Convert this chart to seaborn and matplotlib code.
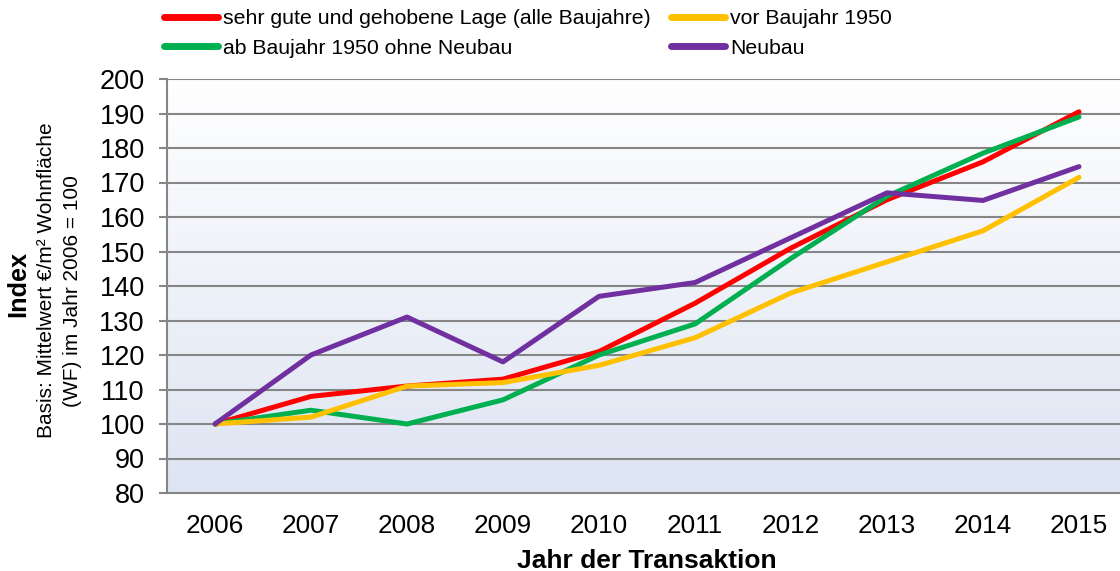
import numpy as np
import pandas as pd
import seaborn as sns
import matplotlib.pyplot as plt
from matplotlib.ticker import MultipleLocator

# data
years = [2006, 2007, 2008, 2009, 2010, 2011, 2012, 2013, 2014, 2015]
lage = [100, 108, 111, 113, 121, 135, 151, 165, 176, 190.5]
vor1950 = [100, 102, 111, 112, 117, 125, 138, 147, 156, 171.5]
ab1950 = [100, 104, 100, 107, 120, 129, 148, 166, 178.5, 189]
neubau = [100, 120, 131, 118, 137, 141, 154, 167, 164.8, 174.6]

names = ["sehr gute und gehobene Lage (alle Baujahre)", "vor Baujahr 1950",
         "ab Baujahr 1950 ohne Neubau", "Neubau"]
colors = {names[0]: "#ff0000", names[1]: "#ffc000", names[2]: "#00b050", names[3]: "#7030a0"}

df = pd.concat([
    pd.DataFrame({"Jahr": years, "Index": lage, "Serie": names[0]}),
    pd.DataFrame({"Jahr": years, "Index": vor1950, "Serie": names[1]}),
    pd.DataFrame({"Jahr": years, "Index": ab1950, "Serie": names[2]}),
    pd.DataFrame({"Jahr": years, "Index": neubau, "Serie": names[3]}),
])

sns.set_style("white")
plt.rcParams["font.family"] = ["Liberation Sans", "DejaVu Sans"]
plt.rcParams["text.color"] = "black"
plt.rcParams["xtick.labelcolor"] = "black"
plt.rcParams["ytick.labelcolor"] = "black"
plt.rcParams["axes.labelcolor"] = "black"

fig = plt.figure(figsize=(11.2, 5.71), dpi=100)
ax = fig.add_axes([167 / 1120, 78 / 571, 960 / 1120, 414 / 571])

# legend order fills columns: red, green | yellow, purple
order = [names[0], names[2], names[1], names[3]]
sns.lineplot(data=df, x="Jahr", y="Index", hue="Serie", hue_order=order,
             palette=colors, lw=3.6, ax=ax, zorder=3, solid_capstyle="round")

# background gradient white (top) -> light blue (bottom)
grad = np.linspace(0, 1, 256).reshape(-1, 1)
top = np.array([1.0, 1.0, 1.0])
bot = np.array([0.867, 0.894, 0.949])
img = top + (bot - top) * grad[:, :, None]
ax.imshow(img, extent=(2005.5, 2015.5, 80, 200), aspect="auto", zorder=0)
ax.set_xlim(2005.5, 2015.5)
ax.set_ylim(80, 200)

ax.yaxis.set_major_locator(MultipleLocator(10))
ax.grid(axis="y", color="#868686", lw=1.5)
for gl in ax.get_ygridlines():
    gl.set_zorder(1)

ax.set_xticks(years)
ax.set_xticklabels([str(y) for y in years])
ax.set_xticks([y - 0.5 for y in years], minor=True)
ax.tick_params(axis="x", which="major", length=0, pad=15, labelsize=18.8)
ax.tick_params(axis="x", which="minor", length=6, width=1.5, color="#868686", direction="out")
ax.tick_params(axis="y", length=6, width=1.5, color="#868686", pad=10, labelsize=19.5, left=True)

for s in ["top", "right"]:
    ax.spines[s].set_visible(False)
for s in ["left", "bottom"]:
    ax.spines[s].set_color("#868686")
    ax.spines[s].set_linewidth(1.5)

ax.set_ylabel("")
ax.set_xlabel("Jahr der Transaktion", fontsize=19, fontweight="bold", labelpad=8)

fig.text(18 / 1120, 1 - 284 / 571, "Index", rotation=90, fontsize=18.2, fontweight="bold",
         ha="center", va="center")
fig.text(47 / 1120, 1 - 280 / 571, "Basis: Mittelwert €/m² Wohnfläche", rotation=90,
         fontsize=15, ha="center", va="center")
fig.text(72 / 1120, 1 - 291 / 571, "(WF) im Jahr 2006 = 100", rotation=90,
         fontsize=15, ha="center", va="center")

handles, labels = ax.get_legend_handles_labels()
ax.get_legend().remove()
for h in handles:
    h.set_linewidth(5)
fig.legend(handles, labels, ncol=2, loc="upper left", bbox_to_anchor=(164 / 1120, 1 - 9 / 571),
           frameon=False, fontsize=15.3, handlelength=2.54, handletextpad=0.24,
           columnspacing=0.94, labelspacing=0.5, borderpad=0, borderaxespad=0)

fig.savefig("out.png", dpi=100)
